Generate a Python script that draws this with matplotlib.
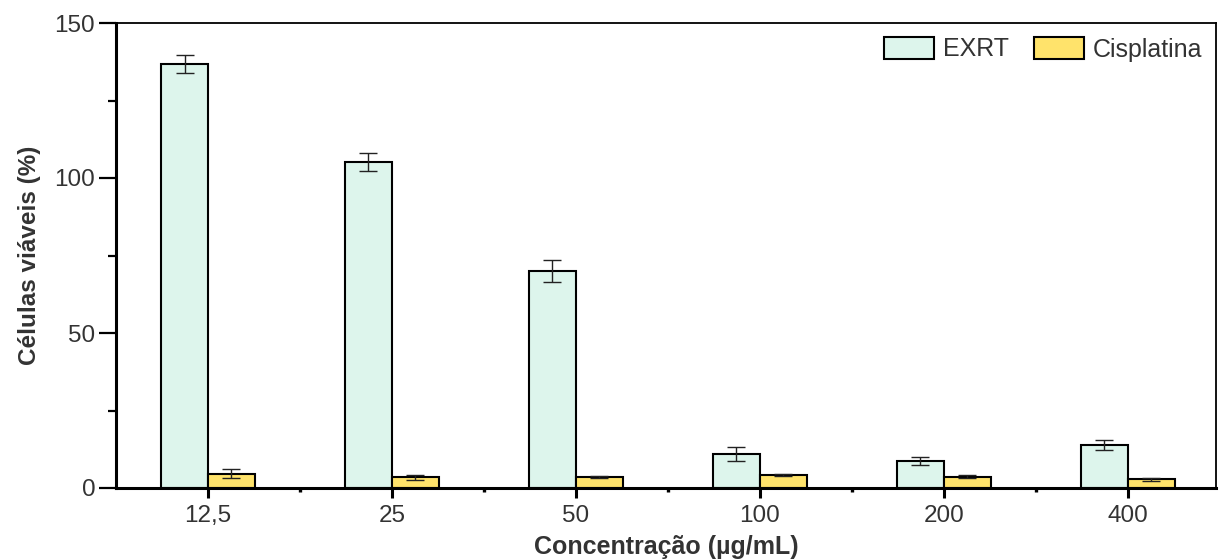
import matplotlib
matplotlib.use("Agg")
import matplotlib.pyplot as plt
import numpy as np
from matplotlib.ticker import MultipleLocator, FixedLocator

plt.rcParams['font.family'] = ['Liberation Sans', 'DejaVu Sans']

categories = ["12,5", "25", "50", "100", "200", "400"]
exrt = [136.8, 105.2, 70.0, 11.0, 8.7, 13.9]
exrt_err = [3.0, 3.0, 3.5, 2.3, 1.2, 1.6]
cis = [4.6, 3.5, 3.5, 4.2, 3.6, 2.8]
cis_err = [1.5, 0.8, 0.4, 0.2, 0.5, 0.5]

fig = plt.figure(figsize=(12.2, 5.6), dpi=100)
ax = fig.add_axes([116/1220, 1-488/560, 1100/1220, 465/560])

x = np.arange(len(categories))
w = 0.255
ek = dict(elinewidth=1.0, capsize=6.5, capthick=1.0, ecolor='#222222')
ax.bar(x - w/2, exrt, w, yerr=exrt_err, color='#DDF5EC', edgecolor='black',
       linewidth=1.5, label='EXRT', error_kw=ek)
ax.bar(x + w/2, cis, w, yerr=cis_err, color='#FFE36B', edgecolor='black',
       linewidth=1.5, label='Cisplatina', error_kw=ek)

ax.set_xlim(-0.5, 5.48)
ax.set_ylim(0, 150)
ax.set_xticks(x)
ax.set_xticklabels(categories)
ax.xaxis.set_minor_locator(FixedLocator(x[:-1] + 0.5))
ax.yaxis.set_major_locator(MultipleLocator(50))
ax.yaxis.set_minor_locator(MultipleLocator(25))
ax.tick_params(axis='both', which='both', direction='out', colors='black',
               labelsize=17.5, labelcolor='#333333')
ax.tick_params(axis='y', which='major', length=12, width=1.6, pad=3)
ax.tick_params(axis='y', which='minor', length=6, width=1.6)
ax.tick_params(axis='x', which='major', length=7, width=2.2, pad=5)
ax.tick_params(axis='x', which='minor', length=3, width=2.4)

for s in ['left', 'bottom']:
    ax.spines[s].set_linewidth(2.2)
for s in ['top', 'right']:
    ax.spines[s].set_linewidth(1.3)

ax.set_xlabel('Concentração (µg/mL)', fontsize=18, fontweight='bold', color='#333333', labelpad=6)
ax.set_ylabel('Células viáveis (%)', fontsize=17.5, fontweight='bold', color='#333333', labelpad=10)

leg = ax.legend(loc='upper right', ncol=2, frameon=False, fontsize=18,
                handlelength=2.0, handleheight=1.0, columnspacing=1.0,
                handletextpad=0.35, borderaxespad=0.15)
for t in leg.get_texts():
    t.set_color('#333333')

fig.savefig('out.png', dpi=100)
